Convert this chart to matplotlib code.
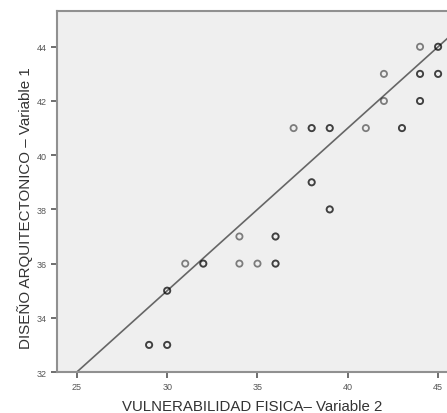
import numpy as np
import matplotlib.pyplot as plt

# VULNERABILIDAD FISICA (x) and DISEÑO ARQUITECTONICO (y), repeated pairs listed twice
vulnerabilidad = [45, 45, 44, 42, 44, 44, 45, 45, 42, 44, 44,
                  37, 38, 38, 39, 39, 41, 43, 43, 38, 38, 39, 39,
                  36, 36, 34, 35, 36, 36, 34, 31, 32, 32, 30, 30,
                  29, 29, 30, 30]
diseno = [44, 44, 44, 43, 43, 43, 43, 43, 42, 42, 42,
          41, 41, 41, 41, 41, 41, 41, 41, 39, 39, 38, 38,
          37, 37, 37, 36, 36, 36, 36, 36, 36, 36, 35, 35,
          33, 33, 33, 33]
x_ticks = [25, 30, 35, 40, 45]
y_ticks = [32, 34, 36, 38, 40, 42, 44]

# fit line as shown on the chart
fit_intercept = 17.0
fit_slope = 0.6

plt.rcParams['font.family'] = ['Liberation Sans', 'DejaVu Sans']

fig = plt.figure(figsize=(4.47, 4.14), dpi=100)
ax = fig.add_axes([0.1275, 0.099, 0.893, 0.872])
ax.set_facecolor('#efefef')

x = np.array(vulnerabilidad, dtype=float)
y = np.array(diseno, dtype=float)

ax.scatter(x, y, s=20, facecolors='none', edgecolors='black',
           linewidths=1.3, alpha=0.48, zorder=3)

xs = np.array([23.9, 46])
ax.plot(xs, fit_intercept + fit_slope * xs, color='#666666', lw=1.2, zorder=2)

ax.set_xlim(23.9, 46)
ax.set_ylim(32, 45.32)
ax.set_xticks(x_ticks)
ax.set_yticks(y_ticks)
ax.tick_params(labelsize=6.5, colors='#555555', length=4, width=1.2)

for side in ['left', 'top', 'bottom']:
    ax.spines[side].set_color('#909090')
    ax.spines[side].set_linewidth(1.5)
ax.spines['right'].set_visible(False)

ax.set_xlabel('VULNERABILIDAD FISICA– Variable 2', fontsize=10.8, color='#333333', va='center')
ax.set_ylabel('DISEÑO ARQUITECTONICO – Variable 1', fontsize=10.9, color='#333333', va='center')
ax.xaxis.set_label_coords(0.5 * (447 - 57) / 399, -0.094)
ax.yaxis.set_label_coords(-0.08, (373 - 208) / 361)

fig.savefig('out.png', dpi=100)
